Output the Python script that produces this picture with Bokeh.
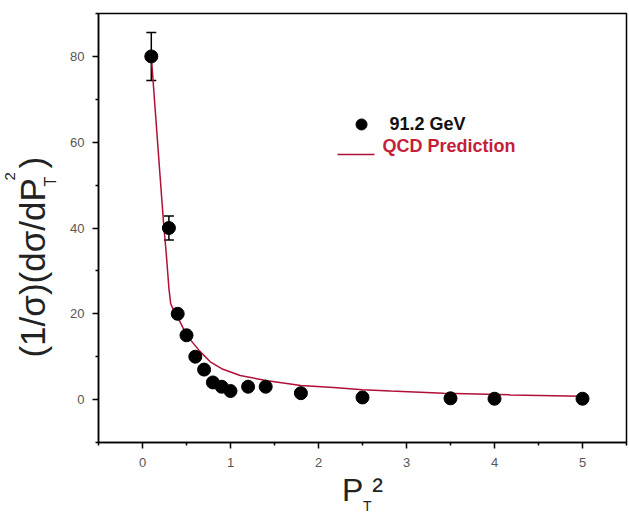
import math
from bokeh.plotting import figure
from bokeh.models import ColumnDataSource, Whisker, Label, FixedTicker, Range1d, TeeHead, Title
from bokeh.embed import file_html
from bokeh.resources import INLINE

# ---- data ----
data_x = [0.1, 0.3, 0.4, 0.5, 0.6, 0.7, 0.8, 0.9, 1.0, 1.2, 1.4, 1.8, 2.5, 3.5, 4.0, 5.0]
data_y = [80, 40, 20, 15, 10, 7, 4, 3, 2, 3, 3, 1.5, 0.5, 0.3, 0.2, 0.2]
data_err = [5.6, 2.8, 0, 0, 0, 0, 0, 0, 0, 0, 0, 0, 0, 0, 0, 0]

qcd_x = [0.10, 0.15, 0.20, 0.24, 0.27, 0.30, 0.32, 0.36, 0.41, 0.47, 0.55, 0.65, 0.77,
         0.90, 1.11, 1.42, 1.80, 2.17, 2.50, 2.82, 3.42, 4.18, 5.00]
qcd_y = [80, 66, 52, 41, 34, 26, 22.4, 20.5, 18.8, 16.3, 13.8, 11.3, 8.8,
         7.2, 5.6, 4.4, 3.3, 2.8, 2.3, 2.0, 1.5, 1.1, 0.8]

x_ticks = [0, 1, 2, 3, 4, 5]
x_minor = [-0.5, 0.5, 1.5, 2.5, 3.5, 4.5, 5.5]
y_ticks = [0, 20, 40, 60, 80]
y_minor = [-10, 10, 30, 50, 70, 90]

series_label = "91.2 GeV"
curve_label = "QCD Prediction"
y_title = "(1/σ)(dσ/dP\u00a0)"
x_title = "P\u00a0²"

FONT = "Liberation Sans"
CURVE_COLOR = "#b01035"
TITLE_COLOR = "#222222"
NBSP = "\u00a0"

p = figure(width=629, height=514,
           x_range=Range1d(-0.5, 5.5), y_range=Range1d(-10, 90),
           output_backend="svg", toolbar_location=None,
           min_border_left=98, min_border_right=3,
           min_border_top=13, min_border_bottom=72)
p.background_fill_color = "white"
p.border_fill_color = "white"
p.grid.visible = False
p.outline_line_color = "black"
p.outline_line_width = 1.5
p.outline_line_alpha = 1.0

for ax, t, m in ((p.xaxis, x_ticks, x_minor), (p.yaxis, y_ticks, y_minor)):
    ax.ticker = FixedTicker(ticks=t, minor_ticks=m)
    ax.axis_line_color = "black"
    ax.axis_line_width = 1.5
    ax.major_tick_line_color = "black"
    ax.major_tick_line_width = 1.5
    ax.minor_tick_line_color = "black"
    ax.minor_tick_line_width = 1.5
    ax.major_tick_in = 0
    ax.major_tick_out = 6
    ax.minor_tick_in = 0
    ax.minor_tick_out = 3
    ax.major_label_text_font = FONT
    ax.major_label_text_font_size = "13px"
    ax.major_label_text_color = "#555555"
    ax.axis_label_text_font = FONT
    ax.axis_label_text_font_style = "normal"
    ax.axis_label_text_color = TITLE_COLOR
p.xaxis.major_label_standoff = 9
p.yaxis.major_label_standoff = 8

# axis titles: main parts as axis labels
p.yaxis.axis_label = y_title + NBSP * 6
p.yaxis.axis_label_text_font_size = "35px"
p.yaxis.axis_label_standoff = 15
p.xaxis.axis_label = x_title
p.xaxis.axis_label_text_font_size = "32px"
p.xaxis.axis_label_standoff = 2

# QCD curve
p.line(qcd_x, qcd_y, line_color=CURVE_COLOR, line_width=1.5)

# error bars (only where present)
ex = [x for x, e in zip(data_x, data_err) if e > 0]
ey = [y for y, e in zip(data_y, data_err) if e > 0]
ee = [e for e in data_err if e > 0]
err_src = ColumnDataSource(dict(x=ex, upper=[y + e for y, e in zip(ey, ee)],
                                lower=[y - e for y, e in zip(ey, ee)]))
w = Whisker(source=err_src, base="x", upper="upper", lower="lower", dimension="height",
            line_color="black", line_width=1.5,
            upper_head=TeeHead(size=10, line_color="black", line_width=1.5),
            lower_head=TeeHead(size=10, line_color="black", line_width=1.5))
p.add_layout(w)

# data points
p.scatter(data_x, data_y, size=13, marker="circle", fill_color="black", line_color="black")

# ---- legend (manual) ----
p.scatter([2.489], [64.13], size=11, marker="circle", fill_color="black", line_color="black")
p.add_layout(Label(x=2.807, y=64.13, text=series_label, text_font=FONT, text_font_size="18px",
                   text_font_style="bold", text_color="#111111",
                   text_align="left", text_baseline="middle"))
p.segment(x0=[2.216], y0=[57.13], x1=[2.636], y1=[57.13], line_color=CURVE_COLOR, line_width=1.5)
p.add_layout(Label(x=2.727, y=59.0, text=curve_label, text_font=FONT, text_font_size="18px",
                   text_font_style="bold", text_color="#c41e3a",
                   text_align="left", text_baseline="middle"))

# ---- sub/superscripts as side-panel titles ----
def ttl(text, size, offset, standoff, valign):
    return Title(text=text, text_font=FONT, text_font_size=size, text_font_style="normal",
                 text_color=TITLE_COLOR, align="left", offset=offset, standoff=standoff,
                 vertical_align=valign)

p.add_layout(ttl("2", "15px", 262, -9, "bottom"), "left")
p.add_layout(ttl("T", "16px", 256, -102, "bottom"), "left")
p.add_layout(ttl("T", "14px", 264.5, -26, "top"), "below")

open("out.html", "w").write(file_html(p, INLINE))
